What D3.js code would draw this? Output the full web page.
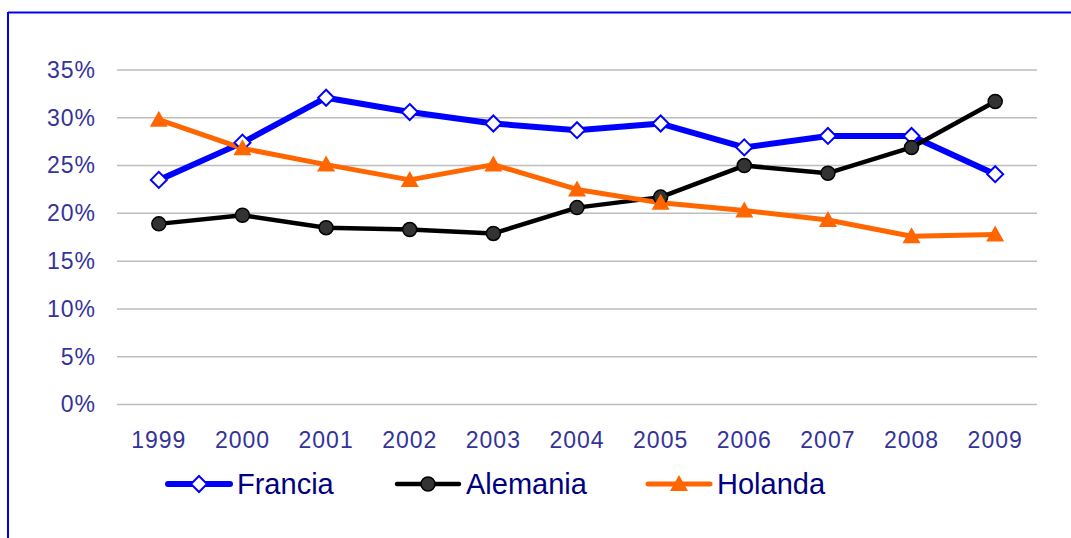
<!DOCTYPE html>
<html>
<head>
<meta charset="utf-8">
<script src="https://cdn.jsdelivr.net/npm/d3@7"></script>
<style>
  html, body { margin: 0; padding: 0; background: #fff; }
  svg { display: block; font-family: Arial, "Liberation Sans", sans-serif; }
</style>
</head>
<body>
<svg id="chart" width="1071" height="538"></svg>
<script>
const years    = ['1999', '2000', '2001', '2002', '2003', '2004', '2005', '2006', '2007', '2008', '2009'];
const francia  = [23.5, 27.4, 32.1, 30.6, 29.4, 28.7, 29.4, 26.9, 28.1, 28.1, 24.1];
const alemania = [18.9, 19.8, 18.5, 18.3, 17.9, 20.6, 21.7, 25.0, 24.2, 26.9, 31.7];
const holanda  = [29.8, 26.8, 25.1, 23.5, 25.1, 22.5, 21.1, 20.3, 19.3, 17.6, 17.8];
const yTicks   = [0, 5, 10, 15, 20, 25, 30, 35];

const series = [
  {name: 'Francia',  values: francia,  color: '#0000ff', width: 6,   marker: 'diamond',  legendX: 168},
  {name: 'Alemania', values: alemania, color: '#000000', width: 4.5, marker: 'circle',   legendX: 397},
  {name: 'Holanda',  values: holanda,  color: '#ff6600', width: 5,   marker: 'triangle', legendX: 648},
];

const svg = d3.select('#chart');

// frame: top and left blue edges
svg.append('line').attr('x1', 8).attr('x2', 1071).attr('y1', 12.5).attr('y2', 12.5)
  .attr('stroke', '#0000ff').attr('stroke-width', 2);
svg.append('line').attr('x1', 8).attr('x2', 8).attr('y1', 12).attr('y2', 538)
  .attr('stroke', '#0000ff').attr('stroke-width', 2);

const x = d3.scaleBand().domain(years).range([117, 1037]);
const y = d3.scaleLinear().domain([0, 35]).range([404.5, 70]);

// grid
svg.append('g').selectAll('line').data(yTicks).join('line')
  .attr('x1', 117).attr('x2', 1037)
  .attr('y1', d => y(d)).attr('y2', d => y(d))
  .attr('stroke', '#bdbdbd').attr('stroke-width', 1.5);

// y axis labels
const yAxis = svg.append('g').attr('transform', 'translate(96,0)')
  .call(d3.axisLeft(y).tickValues(yTicks).tickFormat(d => d + '%').tickSize(0).tickPadding(0));
yAxis.select('.domain').remove();
yAxis.selectAll('text').attr('font-size', 23).attr('letter-spacing', 1).attr('fill', '#333399')
  .attr('font-family', 'Arial, "Liberation Sans", sans-serif');

// x axis labels
const xAxis = svg.append('g').attr('transform', 'translate(0,432)')
  .call(d3.axisBottom(x).tickSize(0).tickPadding(0));
xAxis.select('.domain').remove();
xAxis.selectAll('text').attr('font-size', 23).attr('letter-spacing', 1).attr('fill', '#333399')
  .attr('font-family', 'Arial, "Liberation Sans", sans-serif');

const cx = d => x(d) + x.bandwidth() / 2;

function drawMarker(sel, kind, color) {
  if (kind === 'diamond') {
    sel.append('path').attr('d', 'M0,-8L8,0L0,8L-8,0Z')
      .attr('fill', '#fff').attr('stroke', color).attr('stroke-width', 2);
  } else if (kind === 'circle') {
    sel.append('circle').attr('r', 7)
      .attr('fill', '#333333').attr('stroke', '#000').attr('stroke-width', 1.5);
  } else {
    sel.append('path').attr('d', 'M0,-9L9,7L-9,7Z').attr('fill', color);
  }
}

const line = d3.line().x((d, i) => cx(years[i])).y(d => y(d));

series.forEach(s => {
  svg.append('path').datum(s.values)
    .attr('d', line).attr('fill', 'none')
    .attr('stroke', s.color).attr('stroke-width', s.width)
    .attr('stroke-linejoin', 'round');
});

series.forEach(s => {
  svg.append('g').selectAll('g').data(s.values).join('g')
    .attr('transform', (d, i) => `translate(${cx(years[i])},${y(d)})`)
    .each(function () { drawMarker(d3.select(this), s.marker, s.color); });
});

// legend
const legend = svg.append('g').attr('transform', 'translate(0,484)');
series.forEach(s => {
  const w  = 62;
  const lg = legend.append('g').attr('transform', `translate(${s.legendX},0)`);
  lg.append('line').attr('x1', 0).attr('x2', w)
    .attr('stroke', s.color).attr('stroke-width', s.width).attr('stroke-linecap', 'round');
  drawMarker(lg.append('g').attr('transform', `translate(${w / 2},0)`), s.marker, s.color);
  lg.append('text').attr('x', w + 7).attr('y', 0).attr('dy', '0.36em')
    .attr('font-size', 29).attr('fill', '#000080').text(s.name);
});
</script>
</body>
</html>
